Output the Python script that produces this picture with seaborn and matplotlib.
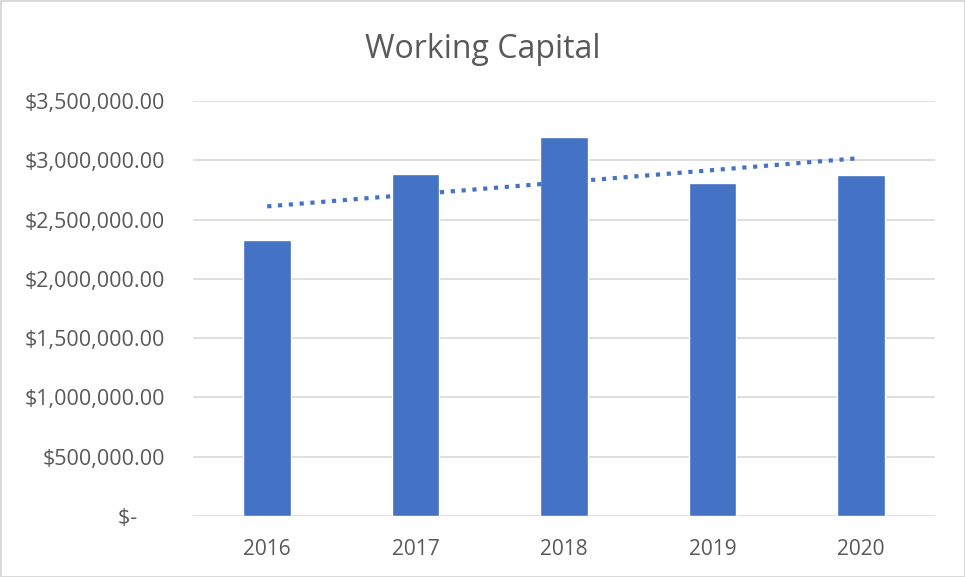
import numpy as np
import pandas as pd
import matplotlib
matplotlib.use("Agg")
import matplotlib.pyplot as plt
import seaborn as sns
from matplotlib.ticker import FuncFormatter, MultipleLocator

# data
years = ["2016", "2017", "2018", "2019", "2020"]
working_capital = [2325000, 2880000, 3192000, 2805000, 2872000]

df = pd.DataFrame({"year": years, "value": working_capital})

sns.set_theme(style="white")
plt.rcParams["font.family"] = ["Open Sans", "DejaVu Sans"]

bar_color = "#4472C4"
text_color = "#595959"

fig = plt.figure(figsize=(9.65, 5.77), dpi=100)
fig.patch.set_edgecolor("#D9D9D9")
fig.patch.set_linewidth(2)
ax = fig.add_axes([0.2, 0.106, 0.769, 0.719])

sns.barplot(data=df, x="year", y="value", color=bar_color, saturation=1,
            width=0.32, ax=ax, zorder=3)

# linear trendline, as Excel draws it
xs = np.arange(len(years))
slope, intercept = np.polyfit(xs, working_capital, 1)
ax.plot(xs, slope * xs + intercept, linestyle=(0, (1, 1.6)), color=bar_color,
        linewidth=3, zorder=4)

ax.set_ylim(0, 3500000)
ax.set_xlim(-0.5, len(years) - 0.5)
ax.yaxis.set_major_locator(MultipleLocator(500000))


def money(v, pos):
    if v == 0:
        return "$-     "
    return f"${v:,.2f}"


ax.yaxis.set_major_formatter(FuncFormatter(money))
ax.grid(axis="y", color="#D9D9D9", linewidth=1.2, zorder=0)
ax.set_axisbelow(True)
for s in ax.spines.values():
    s.set_visible(False)

ax.tick_params(axis="y", length=0, pad=20, labelsize=15.5, labelcolor=text_color)
ax.tick_params(axis="x", length=0, pad=17, labelsize=15, labelcolor=text_color)
ax.set_xlabel("")
ax.set_ylabel("")

fig.text(0.5, 0.915, "Working Capital", ha="center", va="center",
         fontsize=23, color=text_color)

fig.savefig("out.png", dpi=100, edgecolor=fig.get_edgecolor())
